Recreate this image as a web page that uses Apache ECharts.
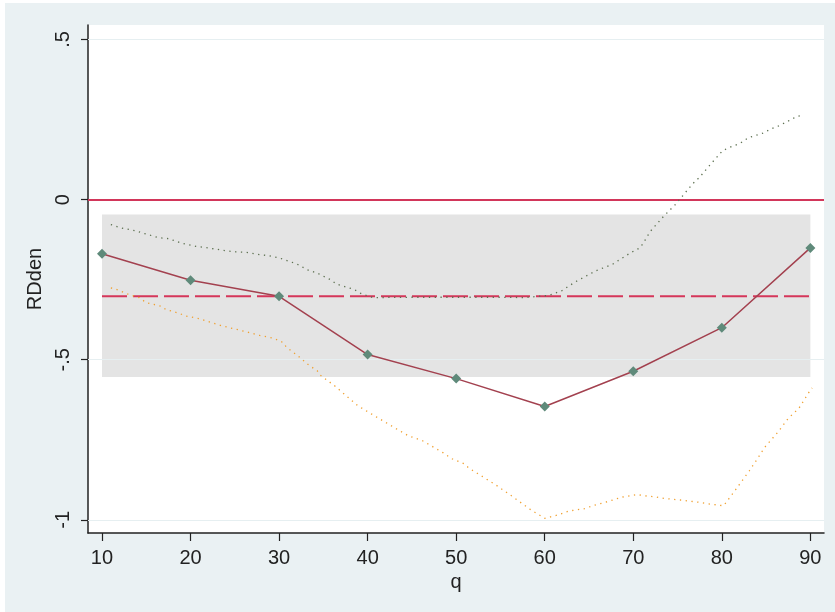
<!DOCTYPE html>
<html><head><meta charset="utf-8">
<script src="https://cdn.jsdelivr.net/npm/echarts@6/dist/echarts.min.js"></script>
<style>html,body{margin:0;padding:0;background:#fff;}#c{position:absolute;left:5px;top:3px;width:830px;height:609px;}</style>
</head><body><div id="c"></div><script>
var qs = [10, 20, 30, 40, 50, 60, 70, 80, 90];
var rd = [-0.169, -0.252, -0.302, -0.484, -0.559, -0.646, -0.536, -0.400, -0.151];
var upperQ = [11, 12.1, 13.7, 14.8, 16.4, 17.5, 19.1, 20.6, 21.8, 22.9, 24, 25.1, 26.3, 27.8, 28.8, 30.1, 32, 33.4, 34.2, 36, 36.4, 38.5, 39.3, 40.6, 45, 50, 55, 57.7, 60.5, 61.9, 63.4, 65.8, 67.6, 69.7, 70.8, 71.3, 71.9, 73.4, 74.7, 75.6, 76.7, 77.5, 78.6, 79.3, 80.1, 80.9, 82.1, 83, 84.6, 85.6, 86.6, 88.5, 89.1];
var upperV = [-0.078, -0.088, -0.097, -0.106, -0.119, -0.122, -0.137, -0.146, -0.15, -0.155, -0.16, -0.163, -0.165, -0.172, -0.175, -0.183, -0.201, -0.222, -0.228, -0.253, -0.263, -0.281, -0.294, -0.306, -0.305, -0.305, -0.305, -0.306, -0.299, -0.285, -0.258, -0.222, -0.203, -0.166, -0.150, -0.128, -0.1, -0.053, -0.017, 0.0125, 0.049, 0.07, 0.106, 0.128, 0.153, 0.163, 0.176, 0.193, 0.207, 0.221, 0.232, 0.26, 0.263];
var lowerQ = [11, 11.5, 13.1, 14.2, 15, 16.7, 17.2, 18.8, 19.4, 21, 22, 23.5, 24.7, 26.2, 27.8, 29.4, 30.5, 30.8, 32.1, 33.4, 34.3, 34.6, 36.3, 37.6, 38.9, 43.2, 44.6, 46.2, 48.5, 49.5, 50.9, 51.4, 54.7, 56.5, 58.5, 60, 61.2, 62.8, 64.5, 65.5, 67.1, 68.7, 70.4, 71.3, 72.5, 73.5, 75.3, 77.4, 78.5, 80.2, 81.5, 83.1, 84.1, 84.8, 86.4, 87.5, 88.7, 89.9, 90.2];
var lowerV = [-0.276, -0.279, -0.297, -0.306, -0.322, -0.333, -0.343, -0.356, -0.363, -0.372, -0.381, -0.394, -0.402, -0.412, -0.424, -0.433, -0.447, -0.46, -0.4875, -0.518, -0.534, -0.547, -0.582, -0.613, -0.644, -0.715, -0.7375, -0.753, -0.79, -0.809, -0.825, -0.8375, -0.895, -0.93, -0.97, -0.995, -0.987, -0.972, -0.965, -0.955, -0.943, -0.929, -0.921, -0.925, -0.928, -0.933, -0.938, -0.945, -0.95, -0.956, -0.908, -0.847, -0.806, -0.775, -0.724, -0.683, -0.652, -0.599, -0.588];
var bandLow = -0.554, bandHigh = -0.047, meanLine = -0.302, bandStart = 10, bandEnd = 90;
var yTicks = [-1, -0.5, 0, 0.5];
var yTickLabels = {'-1': '-1', '-0.5': '-.5', '0': '0', '0.5': '.5'};
var xTicks = [10, 20, 30, 40, 50, 60, 70, 80, 90];

function zip(a, b) { return a.map(function (v, i) { return [v, b[i]]; }); }
var font = 'Liberation Sans, Arial, sans-serif';
var chart = echarts.init(document.getElementById('c'));
chart.setOption({
  animation: false,
  backgroundColor: '#eaf1f3',
  grid: { left: 83, top: 22, right: 11, bottom: 79, show: true, backgroundColor: '#ffffff', borderWidth: 0 },
  xAxis: {
    type: 'value', min: 8.42, max: 91.54,
    name: 'q', nameLocation: 'middle', nameGap: 36,
    nameTextStyle: { fontFamily: font, fontSize: 20, color: '#222' },
    axisLine: { onZero: false, lineStyle: { color: '#222', width: 1.5 } },
    axisTick: { customValues: xTicks, length: 8, lineStyle: { color: '#222', width: 1.2 } },
    axisLabel: { customValues: xTicks, margin: 15, fontFamily: font, fontSize: 20, color: '#222' },
    splitLine: { show: false }
  },
  yAxis: {
    type: 'value', min: -1.041, max: 0.545,
    name: 'RDden', nameLocation: 'middle', nameGap: 40, nameRotate: 90,
    nameTextStyle: { fontFamily: font, fontSize: 20, color: '#222' },
    axisLine: { onZero: false, lineStyle: { color: '#222', width: 1.5 } },
    axisTick: { customValues: yTicks, length: 7, lineStyle: { color: '#222', width: 1.2 } },
    axisLabel: { customValues: yTicks, rotate: 90, margin: 15, fontFamily: font, fontSize: 20, color: '#222',
      formatter: function (v) { return yTickLabels[String(v)] !== undefined ? yTickLabels[String(v)] : String(v); } },
    splitLine: { show: false }
  },
  series: [
    { type: 'line', data: [], z: 1, silent: true,
      markLine: { silent: true, symbol: 'none', label: { show: false },
        lineStyle: { color: '#e6eff1', width: 1, type: 'solid' },
        data: yTicks.filter(function (t) { return t !== 0; }).map(function (t) { return { yAxis: t }; }) } },
    { type: 'line', data: [], z: 2, silent: true,
      markArea: { silent: true, itemStyle: { color: '#e4e4e4' },
        data: [[{ coord: [bandStart, bandLow] }, { coord: [bandEnd, bandHigh] }]] } },
    { type: 'line', data: [], z: 3, silent: true,
      markLine: { silent: true, symbol: 'none', label: { show: false },
        lineStyle: { color: '#d2365a', width: 2, type: 'solid' }, data: [{ yAxis: 0 }] } },
    { type: 'line', z: 4, data: [[bandStart, meanLine], [bandEnd, meanLine]], symbol: 'none',
      lineStyle: { color: '#d5365a', width: 2, type: [25, 6] } },
    { type: 'line', z: 5, data: zip(upperQ, upperV), symbol: 'none',
      lineStyle: { color: '#5d7050', width: 1.3, type: [1.3, 4.5] } },
    { type: 'line', z: 5, data: zip(lowerQ, lowerV), symbol: 'none',
      lineStyle: { color: '#f0a030', width: 1.3, type: [1.3, 4.5] } },
    { type: 'line', z: 6, data: zip(qs, rd), symbol: 'diamond', symbolSize: 10,
      lineStyle: { color: '#a3414f', width: 1.5 },
      itemStyle: { color: '#5f8a7a' } }
  ]
});
</script></body></html>
